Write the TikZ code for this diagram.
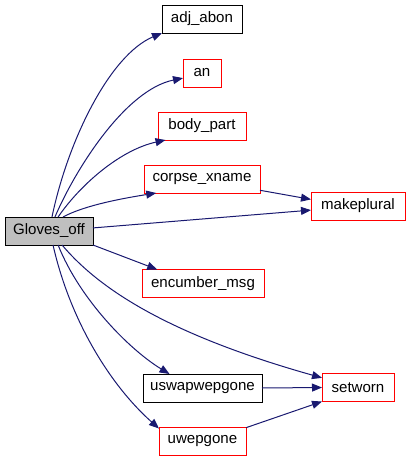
\documentclass[tikz,border=0pt]{standalone}
\usepackage{fontspec}
\setmainfont{Liberation Sans}
\usetikzlibrary{arrows.meta}

\definecolor{edgeblue}{RGB}{25,25,112}
\definecolor{boxgray}{RGB}{191,191,191}

\tikzset{
  fn/.style={draw=red, fill=white, line width=0.75pt, minimum height=21pt, inner sep=0pt, outer sep=0pt, font=\fontsize{11.3}{13}\selectfont},
  fnblack/.style={fn, draw=black},
  call/.style={draw=edgeblue, line width=0.75pt, -{Triangle[length=7.5pt,width=6pt]}}
}

\begin{document}
\begin{tikzpicture}[x=0.75pt,y=-0.75pt]
\useasboundingbox (0,0) rectangle (411,461);

\node[fnblack, fill=boxgray, minimum width=66pt] (G) at (49,231) {Gloves\_off};
\node[fnblack, minimum width=60pt] (adj) at (202,19) {adj\_abon};
\node[fn, minimum width=28.5pt] (an) at (202,73) {an};
\node[fn, minimum width=66pt] (body) at (202,126) {body\_part};
\node[fn, minimum width=87pt] (corpse) at (202,179) {corpse\_xname};
\node[fn, minimum width=70.5pt] (mp) at (358,206) {makeplural};
\node[fn, minimum width=91.5pt] (enc) at (203,283.5) {encumber\_msg};
\node[fnblack, minimum width=89.25pt] (us) at (202.5,388) {uswapwepgone};
\node[fn, minimum width=54pt] (sw) at (358,387.5) {setworn};
\node[fn, minimum width=65.25pt] (uw) at (202.5,441) {uwepgone};

\draw[call] (G.78) .. controls (68,140) and (110,55) .. (adj.south west);
\draw[call] (G.67) .. controls (75,170) and (125,90) .. (an.195);
\draw[call] (G.57) .. controls (80,185) and (120,150) .. (body.201);
\draw[call] (G.45) .. controls (85,205) and (125,198) .. (corpse.197);
\draw[call] (G.4) -- (mp.185);
\draw[call] (corpse.-11) -- (mp.172);
\draw[call] (G.south east) -- (enc.163);
\draw[call] (G.-47) .. controls (100,290) and (170,335) .. (sw.165);
\draw[call] (G.-57) .. controls (80,300) and (130,350) .. (us.157);
\draw[call] (G.-74) .. controls (70,320) and (110,385) .. (uw.164);
\draw[call] (us.east) -- (sw.west);
\draw[call] (uw.17) -- (sw.south west);
\end{tikzpicture}
\end{document}
